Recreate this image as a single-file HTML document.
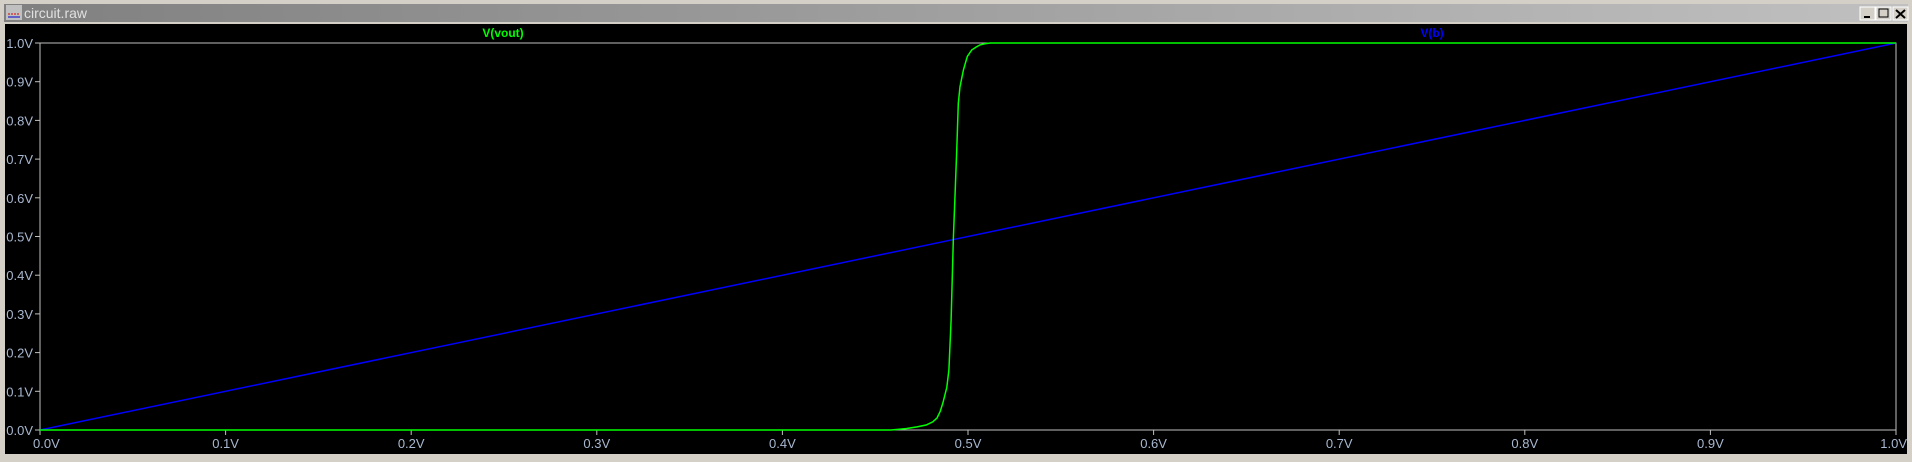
<!DOCTYPE html>
<html><head><meta charset="utf-8"><style>
html,body{margin:0;padding:0;width:1912px;height:457px;overflow:hidden;background:#d4d0c8;font-family:"Liberation Sans",sans-serif}
#win{position:absolute;left:0;top:0;width:1912px;height:457px}
</style></head><body>
<div id="win">
<svg id="svg" width="1912" height="457" xmlns="http://www.w3.org/2000/svg">
<defs><linearGradient id="tb" x1="0" x2="1"><stop offset="0" stop-color="#808080"/><stop offset="1" stop-color="#c0c0c0"/></linearGradient></defs>
<rect x="0" y="0" width="1912" height="457" fill="#d4d0c8"/>
<rect x="4" y="4" width="1904" height="18" fill="url(#tb)"/>
<g><rect x="6" y="5" width="16" height="15" fill="#c0c0c0"/><line x1="8" y1="14" x2="20" y2="14" stroke="#d00" stroke-dasharray="2,1"/><line x1="8" y1="17" x2="20" y2="17" stroke="#00c"/></g>
<text x="24" y="18" font-size="14" fill="#e0e0e0">circuit.raw</text>
<g><rect x="1860" y="7" width="15" height="13" fill="#d4d0c8" stroke="#fff"/><line x1="1864" y1="17" x2="1870" y2="17" stroke="#000" stroke-width="2"/></g>
<g><rect x="1876" y="7" width="15" height="13" fill="#d4d0c8" stroke="#fff"/><rect x="1879" y="9" width="9" height="8" fill="none" stroke="#000"/></g>
<g><rect x="1893" y="7" width="15" height="13" fill="#d4d0c8" stroke="#fff"/><path d="M1896 10 L1905 18 M1905 10 L1896 18" stroke="#000" stroke-width="2"/></g>
<rect x="5" y="24" width="1902" height="430" fill="#000"/>
<g id="axes"></g>
<g id="marks"></g>
<text x="503" y="37" font-size="12" font-weight="bold" fill="#00ff00" text-anchor="middle">V(vout)</text>
<text x="1432" y="37" font-size="12" font-weight="bold" fill="#0000ff" text-anchor="middle">V(b)</text>
</svg></div>
<script>
const xTicks=[0,0.1,0.2,0.3,0.4,0.5,0.6,0.7,0.8,0.9,1.0];
const yTicks=[0,0.1,0.2,0.3,0.4,0.5,0.6,0.7,0.8,0.9,1.0];
const voutX=[0,0.4585,0.463,0.467,0.4725,0.4774,0.481,0.4833,0.485,0.4865,0.4886,0.4897,0.4909,0.4921,0.4939,0.4948,0.4957,0.4975,0.4996,0.502,0.5045,0.5065,0.509,0.512,1.0];
const voutY=[0,0,0.002,0.004,0.008,0.013,0.021,0.031,0.048,0.07,0.11,0.155,0.284,0.49,0.72,0.844,0.887,0.93,0.965,0.982,0.99,0.995,0.998,1.0,1.0];
const vbX=[0,1.0];
const vbY=[0,1.0];
const L=40,R=1896,T=43,B=430,NS="http://www.w3.org/2000/svg";
const sx=v=>L+v*(R-L), sy=v=>B-v*(B-T);
const axes=document.getElementById('axes'), marks=document.getElementById('marks');
function mk(t,a,p){const e=document.createElementNS(NS,t);for(const k in a)e.setAttribute(k,a[k]);p.appendChild(e);return e;}
const frame=mk('rect',{x:L,y:T,width:R-L,height:B-T,fill:'none',stroke:'#c0c0c0','stroke-width':1},axes);


xTicks.forEach(v=>{
  const t=mk('line',{x1:sx(v),x2:sx(v),y1:B,y2:B+5,stroke:'#c0c0c0'},axes);
  
  
  const anchor=v===0?'start':(v===1?'end':'middle');
  const lb=mk('text',{x:v===0?L-7:(v===1?R+11:sx(v)),y:B+18,'font-size':13,fill:'#a8b8d0','text-anchor':anchor},axes);
  lb.textContent=v.toFixed(1)+'V';
  
  
});
yTicks.forEach(v=>{
  const t=mk('line',{x1:L-5,x2:L,y1:sy(v),y2:sy(v),stroke:'#c0c0c0'},axes);
  
  
  const lb=mk('text',{x:L-7,y:sy(v)+5,'font-size':13,fill:'#a8b8d0','text-anchor':'end'},axes);
  lb.textContent=v.toFixed(1)+'V';
  
  
});
function line(xs,ys,col,name){
  const d=xs.map((x,i)=>(i?'L':'M')+sx(x).toFixed(1)+' '+sy(ys[i]).toFixed(1)).join(' ');
  const p=mk('path',{d:d,fill:'none',stroke:col,'stroke-width':1.5},marks);
  
  
}
line(vbX,vbY,'#0000ff','series-vb');
line(voutX,voutY,'#00ff00','series-vout');
</script>
</body></html>
